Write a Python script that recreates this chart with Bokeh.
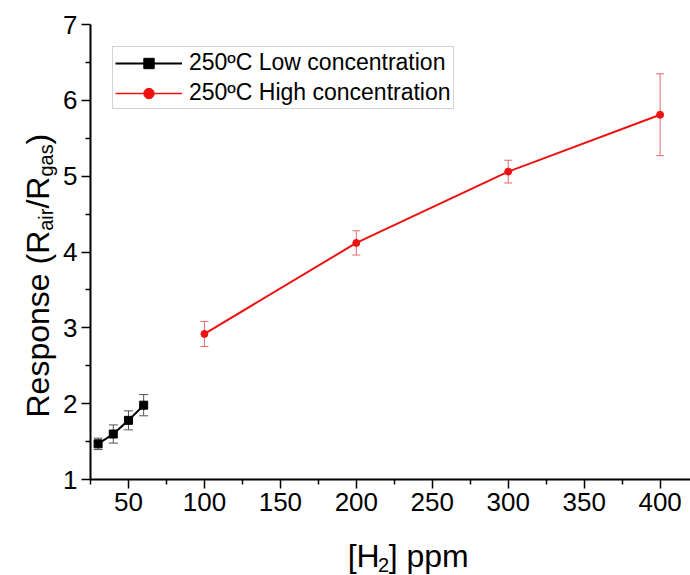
import math
from bokeh.plotting import figure
from bokeh.layouts import row, column
from bokeh.models import (Range1d, Label, Legend, LegendItem, Whisker, TeeHead,
                          ColumnDataSource, FixedTicker)
from bokeh.embed import file_html
from bokeh.resources import INLINE

# ---- data ----
low_x = [30, 40, 50, 60]
low_y = [1.47, 1.60, 1.78, 1.98]
low_err = [0.075, 0.12, 0.125, 0.14]

high_x = [100, 200, 300, 400]
high_y = [2.92, 4.12, 5.06, 5.81]
high_err = [0.165, 0.16, 0.15, 0.54]

x_ticks = [50, 100, 150, 200, 250, 300, 350, 400]
x_minor = [25, 75, 125, 175, 225, 275, 325, 375]
y_ticks = [1, 2, 3, 4, 5, 6, 7]
y_minor = [1.5, 2.5, 3.5, 4.5, 5.5, 6.5]
legend_labels = ["250ºC Low concentration", "250ºC High concentration"]

FONT = "Liberation Sans"
RED = "#ee1111"
NAN = float("nan")

LW = 60    # width of the strip holding the y-axis title
BH = 50    # height of the strip holding the x-axis title
W, H = 690, 575

p = figure(width=W - LW, height=H - BH, x_range=Range1d(25, 420), y_range=Range1d(1, 7),
           output_backend="svg", toolbar_location=None,
           min_border_left=89 - LW, min_border_right=0, min_border_top=24,
           min_border_bottom=H - BH - 479)
p.xgrid.visible = False
p.ygrid.visible = False
p.outline_line_color = None
p.background_fill_color = "white"
p.border_fill_color = "white"

for ax, tk, mn in ((p.xaxis[0], x_ticks, x_minor), (p.yaxis[0], y_ticks, y_minor)):
    ax.ticker = FixedTicker(ticks=tk, minor_ticks=mn)
    ax.axis_line_width = 2
    ax.axis_line_color = "black"
    ax.major_tick_in = 0
    ax.major_tick_out = 9
    ax.minor_tick_in = 0
    ax.minor_tick_out = 5
    ax.major_tick_line_width = 1.5
    ax.minor_tick_line_width = 1.5
    ax.major_tick_line_color = "black"
    ax.minor_tick_line_color = "black"
    ax.major_label_text_font = FONT
    ax.major_label_text_font_size = "26px"
    ax.major_label_text_color = "black"
p.xaxis.major_label_standoff = 4
p.yaxis.major_label_standoff = 4

# error bars
low_src = ColumnDataSource(dict(x=low_x, y=low_y,
                                up=[a + b for a, b in zip(low_y, low_err)],
                                lo=[a - b for a, b in zip(low_y, low_err)]))
high_src = ColumnDataSource(dict(x=high_x, y=high_y,
                                 up=[a + b for a, b in zip(high_y, high_err)],
                                 lo=[a - b for a, b in zip(high_y, high_err)]))

wl = Whisker(base="x", upper="up", lower="lo", source=low_src,
             line_color="#555555", line_width=1,
             upper_head=TeeHead(size=9, line_color="#555555", line_width=1),
             lower_head=TeeHead(size=9, line_color="#555555", line_width=1))
wh = Whisker(base="x", upper="up", lower="lo", source=high_src,
             line_color="#e06a6a", line_width=1,
             upper_head=TeeHead(size=8, line_color="#e06a6a", line_width=1),
             lower_head=TeeHead(size=8, line_color="#e06a6a", line_width=1))
p.add_layout(wl)
p.add_layout(wh)

l1 = p.line("x", "y", source=low_src, line_color="black", line_width=2)
s1 = p.scatter("x", "y", source=low_src, marker="square", size=8,
               fill_color="black", line_color="black")
l2 = p.line("x", "y", source=high_src, line_color=RED, line_width=2)
s2 = p.scatter("x", "y", source=high_src, marker="circle", size=7,
               fill_color=RED, line_color=RED)

# legend-only glyphs (small markers as in the original legend), never visible in the plot
lg1 = p.line([NAN], [NAN], line_color="black", line_width=2)
lm1 = p.scatter([NAN], [NAN], marker="square", size=4, fill_color="black", line_color="black")
lg2 = p.line([NAN], [NAN], line_color=RED, line_width=1.5)
lm2 = p.scatter([NAN], [NAN], marker="circle", size=5, fill_color=RED, line_color=RED)

legend = Legend(items=[LegendItem(label=legend_labels[0], renderers=[lg1, lm1]),
                       LegendItem(label=legend_labels[1], renderers=[lg2, lm2])],
                location="top_left", margin=22, padding=2, spacing=3,
                glyph_width=67, glyph_height=26, label_height=26, label_standoff=7,
                label_text_font=FONT, label_text_font_size="23px",
                label_text_color="black",
                border_line_color="#aaaaaa", border_line_width=1,
                background_fill_color="white", background_fill_alpha=1)
p.add_layout(legend)


def strip(w, h):
    s = figure(width=w, height=h, x_range=Range1d(0, w), y_range=Range1d(0, h),
               output_backend="svg", toolbar_location=None,
               x_axis_type=None, y_axis_type=None,
               min_border=0, min_border_left=0, min_border_right=0,
               min_border_top=0, min_border_bottom=0)
    s.xgrid.visible = False
    s.ygrid.visible = False
    s.outline_line_color = None
    s.background_fill_color = "white"
    s.border_fill_color = "white"
    return s


F = "32px"
S = "20px"


def lab(fig, x, y, text, size, angle=0.0):
    fig.add_layout(Label(x=x, y=y, text=text, angle=angle, text_font=FONT,
                         text_font_size=size, text_color="black",
                         text_align="left", text_baseline="alphabetic"))


# y-axis title (rotated), pieces so the subscripts stay real text
left = strip(LW, H)
A = math.pi / 2
y0 = 158
lab(left, 37, y0, "Response (R", F, A)
lab(left, 45, y0 + 186.7, "air", S, A)
lab(left, 37, y0 + 208.9, "/R", F, A)
lab(left, 45, y0 + 240.9, "gas", S, A)
lab(left, 37, y0 + 273.1, ")", F, A)

# x-axis title
bottom = strip(W - LW, BH)
x0 = 330 - LW
lab(bottom, x0, 20, "[H", F)
lab(bottom, x0 + 32, 11, "2", S)
lab(bottom, x0 + 43.1, 20, "] ppm", F)

layout = row(left, column(p, bottom, spacing=0), spacing=0)

open("out.html", "w").write(file_html(layout, INLINE))
